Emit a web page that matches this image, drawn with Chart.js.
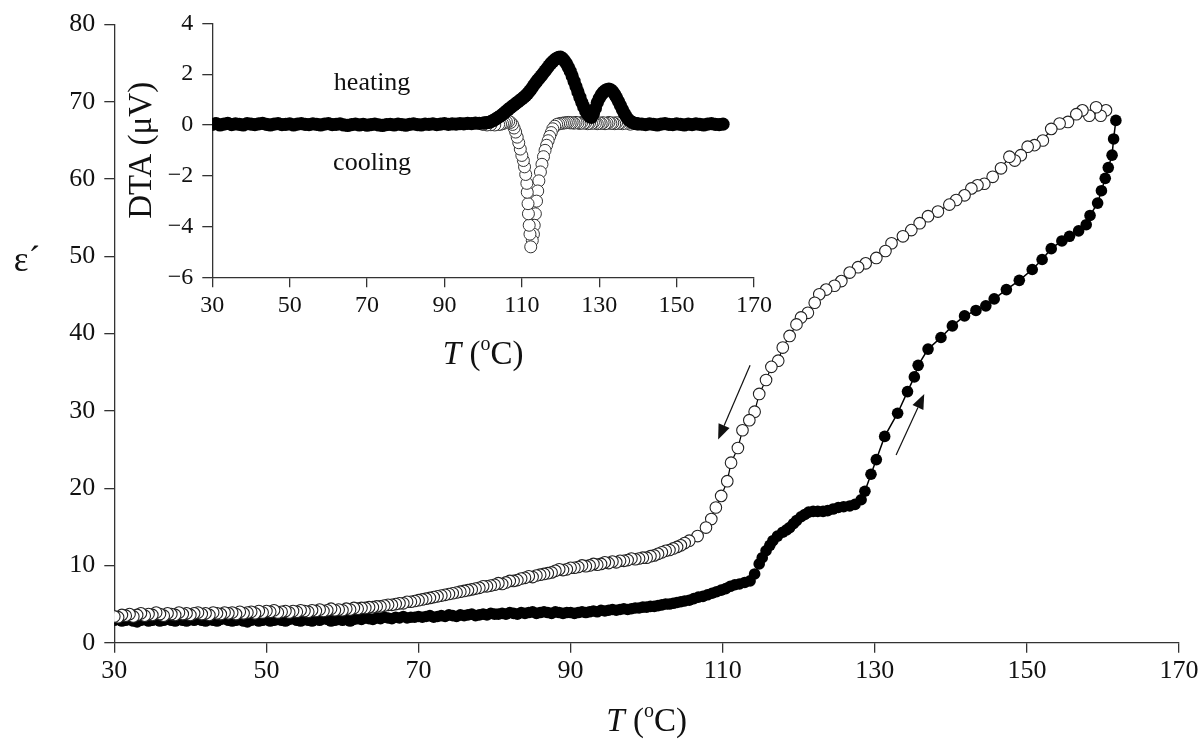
<!DOCTYPE html>
<html>
<head>
<meta charset="utf-8">
<script src="https://cdn.jsdelivr.net/npm/chart.js@4.4.0/dist/chart.umd.min.js"></script>
<style>
  html, body { margin: 0; padding: 0; background: #fff; }
  #wrap { position: relative; width: 1203px; height: 744px; }
  #main { position: absolute; left: 0; top: 0; }
  #inset { position: absolute; left: 100px; top: 0; }
</style>
</head>
<body>
<div id="wrap">
  <canvas id="main" width="1203" height="744"></canvas>
  <canvas id="inset" width="700" height="390"></canvas>
</div>
<script>
// main plot: permittivity vs temperature
const xTicks = [30, 50, 70, 90, 110, 130, 150, 170];
const yTicks = [0, 10, 20, 30, 40, 50, 60, 70, 80];

const heatT = [
  30,30.5,31,31.5,32,32.5,33,33.5,34,34.5,35,35.5,36,36.5,37,37.5,38,38.5,39,39.5,40,
  40.5,41,41.5,42,42.5,43,43.5,44,44.5,45,45.5,46,46.5,47,47.5,48,48.5,49,49.5,50,
  50.5,51,51.5,52,52.5,53,53.5,54,54.5,55,55.5,56,56.5,57,57.5,58,58.5,59,59.5,60,
  60.5,61,61.5,62,62.5,63,63.5,64,64.5,65,65.5,66,66.5,67,67.5,68,68.5,69,69.5,70,
  70.5,71,71.5,72,72.5,73,73.5,74,74.5,75,75.5,76,76.5,77,77.5,78,78.5,79,79.5,80,
  80.5,81,81.5,82,82.5,83,83.5,84,84.5,85,85.5,86,86.5,87,87.5,88,88.5,89,89.5,90,
  90.5,91,91.5,92,92.5,93,93.5,94,94.5,95,95.5,96,96.5,97,97.5,98,98.5,99,99.5,100,
  100.5,101,101.5,102,102.5,103,103.5,104,104.5,105,
  105.6,106.2,106.8,107.4,108,108.6,109.2,109.8,110.4,111,111.6,112.2,112.9,113.6,114.2,
  114.8,115.2,115.7,116.2,116.6,117.2,117.9,118.4,118.8,119.3,119.7,120.3,120.8,121.3,121.9,
  122.5,123.2,123.8,124.5,125.2,125.9,126.7,127.4,128.2,128.7,129.5,130.2,131.3,133,
  134.3,135.2,135.7,137,138.7,140.2,141.8,143.3,144.6,145.7,147.3,149,150.7,152,153.2,
  154.6,155.6,156.8,157.8,158.3,159.3,159.8,160.3,160.7,161.2,161.4,161.7
];
const heatEps = [
  2.9,3.0,2.8,2.9,3.1,2.8,2.7,2.9,3.0,2.8,2.9,3.0,2.8,2.9,3.1,2.9,2.8,3.0,2.9,2.8,3.0,
  2.9,3.1,2.9,2.8,3.0,2.9,2.8,3.0,3.1,2.9,2.8,2.9,3.0,2.8,2.7,2.9,3.0,2.8,2.9,3.0,
  2.8,2.9,3.0,2.9,2.8,3.0,3.1,2.9,2.8,3.0,2.9,2.8,3.0,2.9,3.1,3.0,2.8,2.9,3.0,2.9,
  3.0,2.8,3.0,3.1,3.0,3.2,3.1,3.0,3.2,3.1,3.3,3.2,3.1,3.3,3.2,3.4,3.2,3.3,3.3,3.4,
  3.3,3.4,3.5,3.3,3.4,3.5,3.4,3.6,3.5,3.4,3.6,3.5,3.6,3.7,3.5,3.6,3.7,3.6,3.8,3.7,
  3.7,3.8,3.7,3.9,3.8,3.7,3.9,3.8,3.9,4.0,3.8,3.9,4.0,3.9,3.8,4.0,3.9,3.8,3.9,3.9,
  3.8,3.9,4.0,3.9,4.0,4.1,4.0,4.2,4.1,4.2,4.3,4.2,4.3,4.4,4.3,4.4,4.5,4.5,4.6,4.6,
  4.7,4.7,4.8,4.9,5.0,5.0,5.1,5.2,5.3,5.4,
  5.5,5.7,5.9,6.0,6.2,6.4,6.6,6.8,7.0,7.3,7.5,7.6,7.8,8.0,8.9,
  10.2,11.0,11.9,12.6,13.2,13.8,14.3,14.6,14.9,15.4,15.8,16.3,16.6,16.9,17.0,
  17.0,17.0,17.1,17.3,17.5,17.6,17.7,17.9,18.5,19.6,21.8,23.7,26.7,29.7,
  32.5,34.4,35.9,38.0,39.5,41.0,42.3,43.0,43.6,44.5,45.7,46.9,48.3,49.6,51.0,
  52.0,52.6,53.3,54.1,55.3,56.9,58.5,60.1,61.5,63.1,65.2,67.6
];

const coolT = [
  160.4,159.7,159.1,158.2,157.3,156.5,155.4,154.3,153.2,152.1,151,150.1,149.2,148.4,147.7,
  146.6,145.5,144.4,143.5,142.7,141.8,140.7,139.8,138.3,137,135.9,134.8,133.7,132.2,131.4,
  130.2,128.8,127.8,126.7,125.6,124.7,123.6,122.7,122.1,121.2,120.3,119.7,118.8,117.9,117.3,
  116.4,115.7,114.8,114.2,113.5,112.6,112,111.1,110.6,109.8,109.1,108.5,107.8,106.7,105.6,105,
  104.5,104,103.5,103,102.5,102,101.5,101,100.5,100,
  99.5,99,98.5,98,97.5,97,96.5,96,95.5,95,
  94.5,94,93.5,93,92.5,92,91.5,91,90.5,90,
  89.5,89,88.5,88,87.5,87,86.5,86,85.5,85,
  84.5,84,83.5,83,82.5,82,81.5,81,80.5,80,
  79.5,79,78.5,78,77.5,77,76.5,76,75.5,75,
  74.5,74,73.5,73,72.5,72,71.5,71,70.5,70,
  69.5,69,68.5,68,67.5,67,66.5,66,65.5,65,
  64.5,64,63.5,63,62.5,62,61.5,61,60.5,60,
  59.5,59,58.5,58,57.5,57,56.5,56,55.5,55,
  54.5,54,53.5,53,52.5,52,51.5,51,50.5,50,
  49.5,49,48.5,48,47.5,47,46.5,46,45.5,45,
  44.5,44,43.5,43,42.5,42,41.5,41,40.5,40,
  39.5,39,38.5,38,37.5,37,36.5,36,35.5,35,
  34.5,34,33.5,33,32.5,32,31.5,31,30.5,30
];
const coolEps = [
  68.9,68.2,69.3,68.2,68.9,68.4,67.4,67.2,66.5,65.0,64.4,64.2,63.1,62.4,62.9,
  61.4,60.3,59.4,59.2,58.8,57.9,57.3,56.7,55.8,55.2,54.3,53.4,52.6,51.7,50.7,
  49.8,49.1,48.6,47.9,46.8,46.2,45.7,45.1,44.0,42.7,42.1,41.2,39.7,38.2,36.5,
  35.7,34.0,32.2,29.9,28.8,27.5,25.2,23.3,20.9,19.0,17.5,16.0,14.9,13.8,13.2,12.9,
  12.6,12.4,12.2,12.0,11.9,11.7,11.5,11.3,11.2,11.0,
  11.0,10.9,10.8,10.9,10.7,10.6,10.6,10.4,10.5,10.3,
  10.4,10.2,10.1,10.2,10.0,9.9,10.0,9.8,9.7,9.7,
  9.5,9.4,9.5,9.3,9.1,9.0,8.9,8.8,8.7,8.5,
  8.6,8.4,8.3,8.1,8.0,8.0,7.8,7.6,7.7,7.5,
  7.4,7.3,7.3,7.1,7.0,6.9,6.8,6.7,6.6,6.5,
  6.4,6.3,6.2,6.1,6.0,5.9,5.8,5.7,5.6,5.5,
  5.4,5.3,5.3,5.1,5.1,5.0,4.9,4.9,4.8,4.7,
  4.7,4.6,4.6,4.5,4.5,4.4,4.5,4.3,4.4,4.2,
  4.3,4.2,4.4,4.2,4.1,4.3,4.1,4.2,4.0,4.1,
  4.2,4.0,4.1,3.9,4.1,4.0,3.9,4.2,4.0,4.1,
  3.9,4.1,3.8,4.0,3.9,3.8,4.0,3.7,3.9,3.8,
  3.9,3.7,3.8,3.9,3.6,3.8,3.7,3.9,3.8,3.6,
  3.8,3.7,3.9,3.6,3.7,3.8,3.5,3.7,3.9,3.6,
  3.7,3.5,3.8,3.6,3.4,3.7,3.5,3.6,3.3,3.4
];

// inset: DTA signal
const dtaXTicks = [30, 50, 70, 90, 110, 130, 150, 170];
const dtaYTicks = [-6, -4, -2, 0, 2, 4];

const dtaHeatT = [
  30,31,32,33,34,35,36,37,38,39,40,41,42,43,44,45,46,47,48,49,
  50,51,52,53,54,55,56,57,58,59,60,61,62,63,64,65,66,67,68,69,
  70,71,72,73,74,75,76,77,78,79,80,81,82,83,84,85,86,87,88,89,
  90,91,92,93,94,95,96,97,98,99,100,
  100.5,101,101.5,102,102.5,103,103.5,104,104.5,105,
  105.5,106,106.5,107,107.5,108,108.5,109,109.5,110,
  110.5,111,111.5,112,112.5,113,113.5,114,114.5,115,
  115.5,116,116.5,117,117.5,118,118.5,119,119.5,120,
  120.5,121,121.5,122,122.5,123,123.5,124,124.5,125,
  125.5,126,126.5,127,127.5,128,128.5,129,129.5,130,
  130.5,131,131.5,132,132.5,133,133.5,134,134.5,135,
  135.5,136,136.5,137,137.5,138,138.5,139,139.5,140,
  141,142,143,144,145,146,147,148,149,150,151,152,153,154,155,156,157,158,159,160,161,162
];
const dtaHeatV = [
  0.02,0.05,0.00,0.03,0.06,0.01,0.04,0.02,0.00,0.05,
  0.03,0.01,0.04,0.06,0.02,0.00,0.03,0.05,0.01,0.02,
  0.04,0.00,0.03,0.05,0.02,0.01,0.04,0.02,0.00,0.03,
  0.05,0.01,0.02,0.04,0.00,-0.02,0.01,0.03,0.00,0.02,
  -0.01,0.01,0.03,0.00,-0.02,0.01,0.02,0.00,0.03,0.01,
  -0.01,0.02,0.04,0.01,0.00,0.03,0.02,0.04,0.01,0.03,
  0.05,0.02,0.04,0.03,0.05,0.04,0.06,0.05,0.07,0.06,0.07,
  0.08,0.09,0.10,0.13,0.17,0.21,0.26,0.31,0.36,0.42,
  0.48,0.55,0.61,0.67,0.73,0.79,0.85,0.91,0.97,1.03,
  1.09,1.16,1.24,1.33,1.43,1.54,1.65,1.75,1.84,1.93,
  2.03,2.13,2.23,2.33,2.42,2.50,2.57,2.62,2.66,2.67,
  2.62,2.53,2.42,2.28,2.12,1.93,1.72,1.51,1.30,1.09,
  0.89,0.71,0.55,0.42,0.33,0.30,0.45,0.65,0.88,1.05,
  1.18,1.28,1.35,1.39,1.41,1.38,1.31,1.20,1.07,0.92,
  0.76,0.60,0.45,0.32,0.22,0.15,0.10,0.07,0.05,0.04,
  0.03,0.01,0.04,0.02,0.00,0.03,0.05,0.02,0.01,0.04,0.02,
  0.00,0.03,0.01,0.04,0.02,0.00,0.03,0.05,0.02,0.01,0.03
];

const dtaCoolT = [
  140,139,138,137,136,135.5,135,134.5,134,133.5,133,132.5,132,131.5,131,130.5,130,129.5,129,128.5,
  128,127.5,127,126.5,126,125.5,125,124.5,124,123.5,123,122.5,122,121.5,121,120.5,120,119.5,119,118.5,
  118,117.6,117.2,116.8,116.4,116,115.6,115.2,114.8,114.4,114.1,113.8,113.5,113.2,113,112.7,112.3,
  112.1,111.9,111.7,111.6,111.4,111.3,111,110.7,110.4,110,109.6,109.2,108.8,108.4,108,107.6,107.1,
  106.6,106,105.5,105,104.5,104,103,102,101,100
];
const dtaCoolV = [
  0.04,0.06,0.03,0.07,0.05,0.08,0.06,0.09,0.05,0.08,0.06,0.10,0.07,0.05,0.09,0.06,0.08,0.05,0.07,0.10,
  0.06,0.08,0.05,0.09,0.07,0.10,0.06,0.08,0.10,0.07,0.09,0.08,0.10,0.09,0.08,0.07,0.06,0.04,0.02,-0.05,
  -0.15,-0.30,-0.45,-0.62,-0.80,-1.00,-1.25,-1.55,-1.85,-2.20,-2.60,-3.00,-3.50,-3.95,-4.30,-4.55,-4.80,
  -4.30,-3.95,-3.50,-3.10,-2.65,-2.30,-1.95,-1.65,-1.40,-1.20,-0.95,-0.70,-0.48,-0.28,-0.12,0.02,0.10,
  0.14,0.12,0.08,0.05,0.03,0.02,0.00,0.01,0.00,0.02
];

// arrows in data coordinates: [fromT, fromEps, toT, toEps]
const arrows = [
  [113.6, 35.9, 109.4, 26.3],
  [132.8, 24.3, 136.5, 32.2]
];

const SERIF = "'Liberation Serif', 'Times New Roman', serif";
const INK = '#111';
const AXIS = '#333';

function pts(xs, ys) {
  const n = Math.min(xs.length, ys.length);
  const out = [];
  for (let i = 0; i < n; i++) out.push({ x: xs[i], y: ys[i] });
  return out;
}

function fixedTicks(list) {
  return function(scale) { scale.ticks = list.map(v => ({ value: v })); };
}

function minus(v) { return v < 0 ? '\u2212' + Math.abs(v) : String(v); }

// "T (oC)" with italic T and raised o
function drawTempTitle(ctx, cx, cy, size) {
  const parts = [
    { t: 'T', font: 'italic ' + size + 'px ' + SERIF, dy: 0 },
    { t: ' (', font: size + 'px ' + SERIF, dy: 0 },
    { t: 'o', font: Math.round(size * 0.6) + 'px ' + SERIF, dy: -size * 0.32 },
    { t: 'C)', font: size + 'px ' + SERIF, dy: 0 }
  ];
  let w = 0;
  parts.forEach(p => { ctx.font = p.font; p.w = ctx.measureText(p.t).width; w += p.w; });
  let x = cx - w / 2;
  ctx.save();
  ctx.fillStyle = INK;
  ctx.textBaseline = 'middle';
  ctx.textAlign = 'left';
  parts.forEach(p => { ctx.font = p.font; ctx.fillText(p.t, x, cy + p.dy); x += p.w; });
  ctx.restore();
}

function axisStyle(ticksList, fontSize, fmt) {
  return {
    type: 'linear',
    min: ticksList[0],
    max: ticksList[ticksList.length - 1],
    afterBuildTicks: fixedTicks(ticksList),
    border: { display: true, color: AXIS, width: 1.3 },
    grid: { drawOnChartArea: false, drawTicks: true, tickLength: 10, color: AXIS, lineWidth: 1.3 },
    ticks: {
      color: INK,
      font: { family: SERIF, size: fontSize },
      maxRotation: 0,
      autoSkip: false,
      callback: fmt || (v => String(v))
    }
  };
}

const mainX = axisStyle(xTicks, 26);
mainX.ticks.padding = 3;
mainX.afterFit = s => { s.height = 101.3; };
const mainY = axisStyle(yTicks, 26);
mainY.ticks.padding = 9;
mainY.afterFit = s => { s.width = 114.3; };

const mainDecor = {
  id: 'mainDecor',
  afterDraw(chart) {
    const ctx = chart.ctx, xs = chart.scales.x, ys = chart.scales.y;
    const a = chart.chartArea;
    drawTempTitle(ctx, (a.left + a.right) / 2, 722, 33);
    ctx.save();
    ctx.fillStyle = INK;
    ctx.font = '35px ' + SERIF;
    ctx.textAlign = 'center';
    ctx.textBaseline = 'middle';
    ctx.fillText('\u03b5\u00b4', 27, 262);
    ctx.strokeStyle = INK;
    ctx.lineWidth = 1.2;
    arrows.forEach(([t0, e0, t1, e1]) => {
      const x0 = xs.getPixelForValue(t0), y0 = ys.getPixelForValue(e0);
      const x1 = xs.getPixelForValue(t1), y1 = ys.getPixelForValue(e1);
      const ang = Math.atan2(y1 - y0, x1 - x0);
      const len = 15, half = 6;
      const bx = x1 - len * Math.cos(ang), by = y1 - len * Math.sin(ang);
      ctx.beginPath(); ctx.moveTo(x0, y0); ctx.lineTo(bx, by); ctx.stroke();
      ctx.beginPath();
      ctx.moveTo(x1, y1);
      ctx.lineTo(bx + half * Math.sin(ang), by - half * Math.cos(ang));
      ctx.lineTo(bx - half * Math.sin(ang), by + half * Math.cos(ang));
      ctx.closePath(); ctx.fill();
    });
    ctx.restore();
  }
};

new Chart(document.getElementById('main'), {
  type: 'scatter',
  data: {
    datasets: [
      {
        label: 'cooling',
        data: pts(coolT, coolEps),
        showLine: true,
        borderColor: '#000',
        borderWidth: 1.2,
        pointRadius: 5.8,
        pointBackgroundColor: '#fff',
        pointBorderColor: '#222',
        pointBorderWidth: 1.1
      },
      {
        label: 'heating',
        data: pts(heatT, heatEps),
        showLine: true,
        borderColor: '#000',
        borderWidth: 1.5,
        pointRadius: 5.8,
        pointBackgroundColor: '#000',
        pointBorderColor: '#000',
        pointBorderWidth: 0
      }
    ]
  },
  options: {
    responsive: false,
    animation: false,
    layout: { padding: { left: 0, right: 24, top: 20, bottom: 0 } },
    plugins: { legend: { display: false }, tooltip: { enabled: false } },
    scales: { x: mainX, y: mainY }
  },
  plugins: [mainDecor]
});

const insetX = axisStyle(dtaXTicks, 24);
insetX.ticks.padding = 4;
insetX.afterFit = s => { s.height = 112.7; };
const insetY = axisStyle(dtaYTicks, 24, minus);
insetY.ticks.padding = 9;
insetY.afterFit = s => { s.width = 112.3; };

const insetDecor = {
  id: 'insetDecor',
  afterDraw(chart) {
    const ctx = chart.ctx, xs = chart.scales.x, ys = chart.scales.y;
    const a = chart.chartArea;
    drawTempTitle(ctx, (a.left + a.right) / 2, 355, 33);
    ctx.save();
    ctx.fillStyle = INK;
    ctx.font = '33px ' + SERIF;
    ctx.textAlign = 'center';
    ctx.textBaseline = 'middle';
    ctx.translate(42, (a.top + a.bottom) / 2);
    ctx.rotate(-Math.PI / 2);
    ctx.fillText('DTA (\u03bcV)', 0, 0);
    ctx.restore();
    ctx.save();
    ctx.fillStyle = INK;
    ctx.font = '26px ' + SERIF;
    ctx.textAlign = 'center';
    ctx.textBaseline = 'middle';
    ctx.fillText('heating', xs.getPixelForValue(71.3), ys.getPixelForValue(1.65));
    ctx.fillText('cooling', xs.getPixelForValue(71.3), ys.getPixelForValue(-1.52));
    ctx.restore();
  }
};

new Chart(document.getElementById('inset'), {
  type: 'scatter',
  data: {
    datasets: [
      {
        label: 'heating',
        data: pts(dtaHeatT, dtaHeatV),
        showLine: true,
        borderColor: '#000',
        borderWidth: 1.5,
        pointRadius: 6.6,
        pointBackgroundColor: '#000',
        pointBorderColor: '#000',
        pointBorderWidth: 0
      },
      {
        label: 'cooling',
        data: pts(dtaCoolT, dtaCoolV),
        showLine: true,
        borderColor: '#222',
        borderWidth: 1,
        pointRadius: 6,
        pointBackgroundColor: '#fff',
        pointBorderColor: '#333',
        pointBorderWidth: 1
      }
    ]
  },
  options: {
    responsive: false,
    animation: false,
    layout: { padding: { left: 0, right: 46, top: 22, bottom: 0 } },
    plugins: { legend: { display: false }, tooltip: { enabled: false } },
    scales: { x: insetX, y: insetY }
  },
  plugins: [insetDecor]
});
</script>
</body>
</html>
